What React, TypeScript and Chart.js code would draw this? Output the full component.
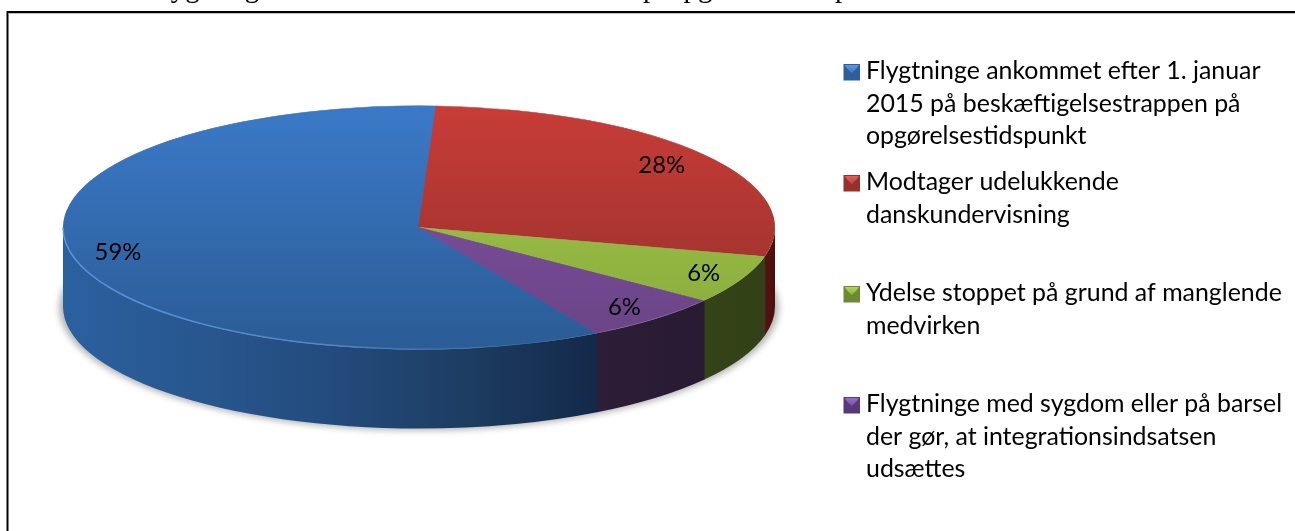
import React, { useEffect, useRef } from "react";
import { Chart, registerables } from "chart.js";

Chart.register(...registerables);

// ---- data ----
const categories: string[][] = [
  ["Flygtninge ankommet efter 1. januar", "2015 på beskæftigelsestrappen på", "opgørelsestidspunkt"],
  ["Modtager udelukkende", "danskundervisning"],
  ["Ydelse stoppet på grund af manglende", "medvirken"],
  ["Flygtninge med sygdom eller på barsel", "der gør, at integrationsindsatsen", "udsættes"],
];
const shareValues = [59, 28, 6.4, 6.4];
const shownPercent = ["59%", "28%", "6%", "6%"];
// caption above the frame: only the descenders survive the crop, these words are inferred from them
const captionWords = ["flygtninge", "på", "opgørelsestidspunkt"];
const captionWordX = [153, 643, 669];

const topFaceTop = ["#3b79c8", "#c83c37", "#a6cc4c", "#8452a8"];
const topFaceBottom = ["#2a5c95", "#92302b", "#86a83c", "#694484"];
const wallStops = [
  ["#2b609f", "#28578f", "#234b7d", "#1d3d62", "#13294a"],
  ["#5a1212", "#4a0f0f"],
  ["#354318", "#314016"],
  ["#2d1d36", "#291a33"],
];
const swatchDark = ["#2f5e9c", "#97302c", "#6d8a30", "#55397a"];
const swatchLight = ["#5b9ce0", "#e85f5a", "#b5d95b", "#9a72c8"];
const labelRatios = [0.87, 0.85, 0.885, 0.87];

const FONT = "Lato, Carlito, sans-serif";

const CX = 419;
const CY = 227.5;
const RX = 356;
const RY = 122;
const DEPTH = 79;
const SCALE_X = RX / RY;

const pie3d = {
  id: "pie3d",
  beforeDatasetsDraw(chart: any) {
    const ctx: CanvasRenderingContext2D = chart.ctx;
    // soft ground shadow
    ctx.save();
    ctx.filter = "blur(3px)";
    ctx.fillStyle = "rgba(120,120,120,0.55)";
    ctx.beginPath();
    ctx.ellipse(CX, CY + DEPTH + 1, RX + 4, RY + 1, 0, 0, Math.PI * 2);
    ctx.fill();
    ctx.restore();
    // side walls follow the arcs that the library computed
    const arcs = chart.getDatasetMeta(0).data;
    arcs.forEach((arc: any, i: number) => {
      for (const shift of [-2, 0, 2]) {
        const a0 = Math.max(arc.startAngle + shift * Math.PI, 0);
        const a1 = Math.min(arc.endAngle + shift * Math.PI, Math.PI);
        if (a1 <= a0) continue;
        const xa = CX + RX * Math.cos(a0);
        const xb = CX + RX * Math.cos(a1);
        const grad = ctx.createLinearGradient(Math.min(xa, xb), 0, Math.max(xa, xb), 0);
        const stops = wallStops[i];
        stops.forEach((c, k) => grad.addColorStop(k / (stops.length - 1), c));
        ctx.fillStyle = grad;
        const lap = a0 > 0 ? 0.004 : 0;
        ctx.beginPath();
        ctx.ellipse(CX, CY, RX, RY, 0, a0 - lap, a1);
        ctx.ellipse(CX, CY + DEPTH, RX, RY, 0, a1, a0 - lap, true);
        ctx.closePath();
        ctx.fill();
      }
    });
  },
  beforeDatasetDraw(chart: any) {
    const ctx = chart.ctx;
    ctx.save();
    ctx.translate(CX, 0);
    ctx.scale(SCALE_X, 1);
    ctx.translate(-CX, 0);
  },
  afterDatasetDraw(chart: any) {
    chart.ctx.restore();
  },
  afterDatasetsDraw(chart: any) {
    const ctx: CanvasRenderingContext2D = chart.ctx;
    const arcs = chart.getDatasetMeta(0).data;
    // bright rim along the front of the blue slice
    const g = ctx.createLinearGradient(CX - RX, 0, CX + 100, 0);
    g.addColorStop(0, "rgba(90,150,225,0.9)");
    g.addColorStop(0.6, "rgba(90,150,225,0.6)");
    g.addColorStop(1, "rgba(90,150,225,0)");
    ctx.save();
    ctx.strokeStyle = g;
    ctx.lineWidth = 1.5;
    ctx.beginPath();
    ctx.ellipse(CX, CY, RX, RY - 0.5, 0, arcs[0].startAngle, Math.PI);
    ctx.stroke();
    ctx.restore();
    // percentage labels
    ctx.save();
    ctx.fillStyle = "#000";
    ctx.font = `23.8px ${FONT}`;
    ctx.textAlign = "center";
    ctx.textBaseline = "middle";
    arcs.forEach((arc: any, i: number) => {
      const mid = (arc.startAngle + arc.endAngle) / 2;
      ctx.fillText(
        shownPercent[i],
        CX + RX * labelRatios[i] * Math.cos(mid),
        CY + RY * labelRatios[i] * Math.sin(mid),
      );
    });
    ctx.restore();
  },
  afterDraw(chart: any) {
    const ctx: CanvasRenderingContext2D = chart.ctx;
    ctx.save();
    // caption cropped by the top edge of the picture
    ctx.fillStyle = "#000";
    ctx.font = "29px 'Liberation Serif', serif";
    ctx.textAlign = "left";
    ctx.textBaseline = "alphabetic";
    captionWords.forEach((w, i) => ctx.fillText(w, captionWordX[i], -3.5));
    // frame
    ctx.fillRect(7, 11, 1288, 2);
    ctx.fillRect(6.5, 11, 2, 520);
    ctx.fillStyle = "#bbb";
    ctx.fillRect(8.5, 13, 1287, 1);
    // legend
    ctx.font = `24.9px ${FONT}`;
    const lineGap = 32.6;
    const firstBase = 79;
    const step = 111;
    chart.data.labels.forEach((lines: string[], i: number) => {
      const base = firstBase + i * step;
      const x = 843.5;
      const y = base - 15;
      const s = 16.5;
      const grad = ctx.createLinearGradient(0, y, 0, y + s);
      grad.addColorStop(0, swatchLight[i]);
      grad.addColorStop(1, swatchDark[i]);
      ctx.fillStyle = swatchDark[i];
      ctx.fillRect(x, y, s, s);
      ctx.fillStyle = grad;
      ctx.beginPath();
      ctx.moveTo(x + 1, y + 1);
      ctx.lineTo(x + s - 1, y + 1);
      ctx.lineTo(x + s - 4, y + 5);
      ctx.lineTo(x + s / 2, y + 9);
      ctx.lineTo(x + 4, y + 5);
      ctx.closePath();
      ctx.fill();
      ctx.fillStyle = "#000";
      lines.forEach((ln, k) => ctx.fillText(ln, 866, base + k * lineGap));
    });
    ctx.restore();
  },
};

export default function App() {
  const ref = useRef<HTMLCanvasElement>(null);
  useEffect(() => {
    document.body.style.margin = "0";
    document.body.style.background = "#fff";
    const canvas = ref.current!;
    const c = canvas.getContext("2d")!;
    const fills = topFaceTop.map((top, i) => {
      const g = c.createLinearGradient(0, CY - RY, 0, CY + RY);
      g.addColorStop(0, top);
      g.addColorStop(1, topFaceBottom[i]);
      return g;
    });
    const chart = new Chart(canvas, {
      type: "pie",
      data: {
        labels: categories as any,
        datasets: [
          {
            data: shareValues,
            backgroundColor: fills as any,
            borderColor: fills as any,
            borderWidth: 0.5,
            clip: false as any,
          },
        ],
      },
      options: {
        responsive: false,
        animation: false,
        rotation: 150,
        layout: {
          padding: {
            left: CX - RY,
            right: 1295 - CX - RY,
            top: CY - RY,
            bottom: 531 - CY - RY,
          },
        },
        plugins: {
          legend: { display: false },
          tooltip: { enabled: false },
          title: { display: false },
        },
      },
      plugins: [pie3d],
    });
    return () => chart.destroy();
  }, []);
  return (
    <canvas
      ref={ref}
      width={1295}
      height={531}
      style={{ display: "block", width: 1295, height: 531 }}
    />
  );
}
